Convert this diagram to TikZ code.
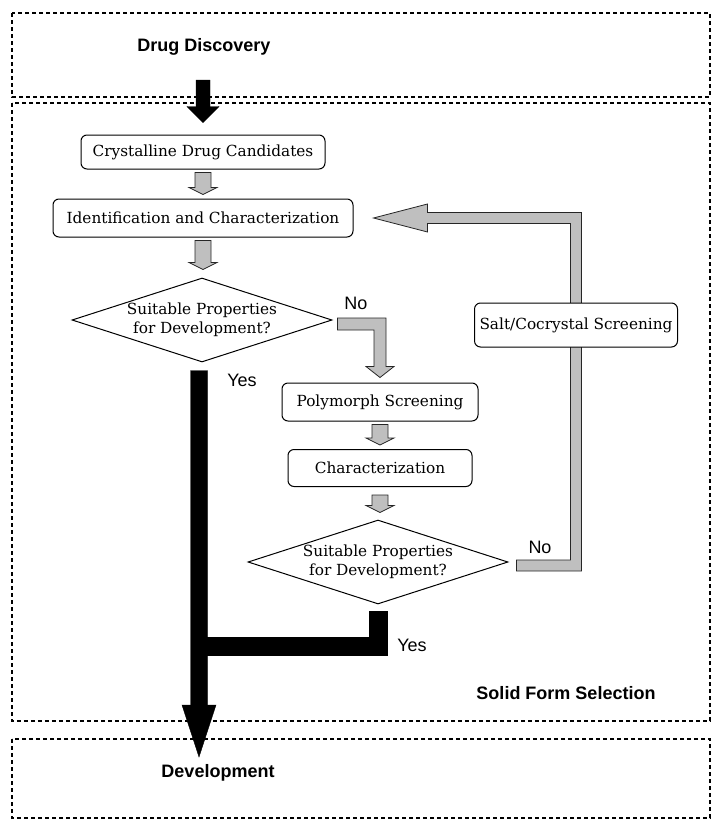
\documentclass[tikz,border=0pt]{standalone}
\usepackage{fontspec}
\setmainfont{DejaVu Serif}
\setsansfont{Liberation Sans}
\usetikzlibrary{shapes.geometric, calc, backgrounds}

\tikzset{
  frame/.style={draw, dash pattern=on 4pt off 3pt, line width=1.2pt},
  procbox/.style={draw, rounded corners=6pt, line width=1pt, fill=white, minimum height=34pt, inner xsep=5pt, font=\fontsize{15.3}{17}\selectfont},
  decision/.style={draw, diamond, line width=1pt, fill=white, inner sep=0pt, minimum width=260pt, minimum height=84pt},
  decisiontext/.style={align=center, inner sep=0pt, font=\fontsize{15.3}{19}\selectfont},
  hatched/.style={fill=gray!50, draw=black!85, line width=0.8pt},
  solidarrow/.style={fill=black, draw=black},
  tag/.style={font=\sffamily\fontsize{18}{20}\selectfont},
  title/.style={font=\sffamily\bfseries\fontsize{18}{20}\selectfont}
}

% vertical block arrow: style, from, to, half shaft, half head, head length
\newcommand{\downblock}[6]{%
  \filldraw[#1] let \p1=(#2), \p2=(#3) in
    (\x1-#4,\y1) -- (\x1+#4,\y1) -- (\x1+#4,\y2+#6) -- (\x1+#5,\y2+#6)
    -- (\x1,\y2) -- (\x1-#5,\y2+#6) -- (\x1-#4,\y2+#6) -- cycle;}

\begin{document}
\begin{tikzpicture}[x=1pt, y=1pt]
    \useasboundingbox (0,0) rectangle (714,-830);

    % the three stages
    \draw[frame] (12,-13) rectangle (710,-97);
    \draw[frame] (12,-103) rectangle (710,-721);
    \draw[frame] (12,-739) rectangle (710,-818);

    \node[title] (discovery) at (204,-47) {Drug Discovery};
    \node[title] (selection) at (566,-693) {Solid Form Selection};
    \node[title] (development) at (218,-773) {Development};

    \node[procbox, minimum width=244pt] (crystal) at (203,-152) {Crystalline Drug Candidates};
    \node[procbox, minimum width=300pt, minimum height=38pt] (ident) at (203,-218) {Identification and Characterization};
    \node[decision] (suit1) at (202,-320) {};
    \node[decisiontext] (suit1text) at (suit1) {Suitable Properties\\for Development?};
    \node[procbox, minimum width=196pt, minimum height=38pt] (poly) at (380,-402) {Polymorph Screening};
    \node[procbox, minimum width=184pt, minimum height=37pt] (charac) at (380,-468) {Characterization};
    \node[decision] (suit2) at (378,-562) {};
    \node[decisiontext] (suit2text) at (suit2) {Suitable Properties\\for Development?};
    \node[procbox, minimum width=202pt, minimum height=44pt] (salt) at (576,-325) {Salt/Cocrystal Screening};

    \node[tag] (no1) at (356,-303) {No};
    \node[tag] (yes1) at (242,-380) {Yes};
    \node[tag] (no2) at (540,-547) {No};
    \node[tag] (yes2) at (412,-645) {Yes};

    \coordinate (start) at (203,-80);
    \coordinate (devtip) at (199,-757);

    \begin{scope}[on background layer]
        % black arrows
        \downblock{solidarrow}{start}{$(crystal.north)+(0,12)$}{7pt}{16pt}{16pt}
        \downblock{solidarrow}{$(suit1.south)+(-3,-8)$}{devtip}{8.5pt}{17pt}{52pt}
        \filldraw[solidarrow] let \p1=(suit2.south), \p2=(suit1.south) in
            (\x1-9pt,\y1-7pt) -- (\x1+9pt,\y1-7pt) -- (\x1+9pt,\y1-51pt)
            -- (\x2,\y1-51pt) -- (\x2,\y1-33pt) -- (\x1-9pt,\y1-33pt) -- cycle;

        % short hatched arrows
        \downblock{hatched}{$(crystal.south)+(0,-3)$}{$(ident.north)+(0,4)$}{8pt}{14pt}{7pt}
        \downblock{hatched}{$(ident.south)+(0,-3)$}{$(suit1.north)+(0,8)$}{8pt}{14pt}{7pt}
        \downblock{hatched}{$(poly.south)+(0,-3)$}{$(charac.north)+(0,4)$}{8pt}{14pt}{7pt}
        \downblock{hatched}{$(charac.south)+(0,-8)$}{$(suit2.north)+(0,7)$}{8pt}{14pt}{7pt}

        % No from the first decision
        \filldraw[hatched] let \p1=(suit1.east), \p2=(poly.north) in
            (\x1+5pt,\y1+2pt) -- (\x2+6pt,\y1+2pt) -- (\x2+6pt,\y2+16pt)
            -- (\x2+14pt,\y2+16pt) -- (\x2,\y2+5pt) -- (\x2-14pt,\y2+16pt)
            -- (\x2-6pt,\y2+16pt) -- (\x2-6pt,\y1-10pt) -- (\x1+5pt,\y1-10pt) -- cycle;

        % No from the second decision, back through salt screening
        \filldraw[hatched] let \p1=(suit2.east), \p2=(salt.center), \p3=(ident.east) in
            (\x1+8pt,\y1+2pt) -- (\x2-5.5pt,\y1+2pt) -- (\x2-5.5pt,\y3-5.5pt)
            -- (\x3+74pt,\y3-5.5pt) -- (\x3+74pt,\y3-14pt) -- (\x3+20pt,\y3)
            -- (\x3+74pt,\y3+14pt) -- (\x3+74pt,\y3+5.5pt) -- (\x2+5.5pt,\y3+5.5pt)
            -- (\x2+5.5pt,\y1-9pt) -- (\x1+8pt,\y1-9pt) -- cycle;
    \end{scope}
\end{tikzpicture}
\end{document}
